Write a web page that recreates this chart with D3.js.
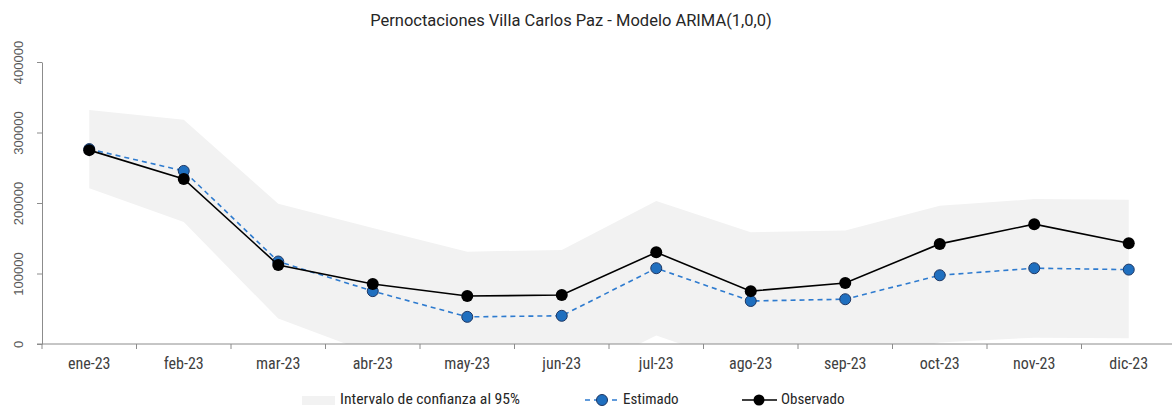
<!DOCTYPE html>
<html>
<head>
<meta charset="utf-8">
<script src="https://cdn.jsdelivr.net/npm/d3@7"></script>
<style>
  body { margin: 0; background: #fff; }
  svg { display: block; }
  .narrow { font-family: "Liberation Sans Narrow", "Roboto Condensed", Roboto, sans-serif; }
</style>
</head>
<body>
<div id="chart"></div>
<script>
// datos
var meses = ['ene-23','feb-23','mar-23','abr-23','may-23','jun-23','jul-23','ago-23','sep-23','oct-23','nov-23','dic-23'];
var observado = [275000, 234000, 112000, 85000, 68000, 69500, 130000, 75000, 86500, 142000, 170000, 143000];
var estimado  = [276500, 245500, 117000, 75000, 38500, 40000, 107500, 61000, 63500, 97500, 107500, 105500];
var icSup     = [332000, 318000, 199000, 164500, 131000, 133500, 203000, 158500, 161000, 196000, 205500, 204500];
var icInf     = [221000, 173000, 36000, -14000, -54000, -54000, 12000, -34000, -30000, 2000, 9000, 8000];
var yTicks    = [0, 100000, 200000, 300000, 400000];

var cfg = { w: 1172, h: 408, left: 42, right: 1176, top: 62, bottom: 344 };

var svg = d3.select("#chart").append("svg")
    .attr("width", cfg.w)
    .attr("height", cfg.h);

var x = d3.scaleBand().domain(meses).range([cfg.left, cfg.right]).padding(0);
var y = d3.scaleLinear().domain([0, 400000]).range([cfg.bottom, cfg.top]);
var cx = function(d, i) { return x(meses[i]) + x.bandwidth() / 2; };

svg.append("clipPath").attr("id", "clip")
  .append("rect")
    .attr("x", cfg.left).attr("y", 0)
    .attr("width", cfg.w - cfg.left).attr("height", cfg.bottom);

// banda de confianza
var area = d3.area()
    .x(cx)
    .y0(function(d, i) { return y(icInf[i]); })
    .y1(function(d, i) { return y(icSup[i]); });

svg.append("path")
    .datum(meses)
    .attr("clip-path", "url(#clip)")
    .attr("fill", "#f2f2f2")
    .attr("d", area);

// ejes
var yAxis = svg.append("g")
    .attr("transform", "translate(" + cfg.left + ",0)")
    .call(d3.axisLeft(y).tickValues(yTicks).tickSize(5).tickSizeOuter(0).tickFormat(d3.format("d")));
yAxis.select(".domain").attr("stroke", "#8c8c8c");
yAxis.selectAll(".tick line").attr("stroke", "#8c8c8c");
yAxis.selectAll(".tick text")
    .attr("x", null).attr("dy", null)
    .attr("transform", "translate(-24,0) rotate(-90)")
    .attr("text-anchor", "middle")
    .attr("dominant-baseline", "central")
    .style("font-family", "'Liberation Sans', Arial, sans-serif")
    .style("font-size", "13px")
    .attr("fill", "#595959");

svg.append("line")
    .attr("x1", 37).attr("x2", cfg.w)
    .attr("y1", cfg.bottom).attr("y2", cfg.bottom)
    .attr("stroke", "#8c8c8c");

svg.selectAll(".xtick")
    .data(meses)
    .enter().append("line")
    .attr("class", "xtick")
    .attr("x1", function(d) { return x(d); })
    .attr("x2", function(d) { return x(d); })
    .attr("y1", cfg.bottom).attr("y2", cfg.bottom + 5)
    .attr("stroke", "#8c8c8c");

svg.selectAll(".xlab")
    .data(meses)
    .enter().append("text")
    .attr("class", "xlab narrow")
    .attr("x", cx)
    .attr("y", 369)
    .attr("text-anchor", "middle")
    .style("font-size", "16px")
    .attr("fill", "#404040")
    .text(function(d) { return d; });

// lineas
var line = function(vals) {
    return d3.line().x(cx).y(function(d, i) { return y(vals[i]); })(meses);
};

svg.append("path")
    .attr("d", line(estimado))
    .attr("fill", "none")
    .attr("stroke", "#2e7bcf")
    .attr("stroke-width", 1.6)
    .attr("stroke-dasharray", "5,4");

svg.selectAll(".pEst")
    .data(estimado)
    .enter().append("circle")
    .attr("class", "pEst")
    .attr("cx", cx)
    .attr("cy", function(d) { return y(d); })
    .attr("r", 5.5)
    .attr("fill", "#1f6fbf")
    .attr("stroke", "#1f3864")
    .attr("stroke-width", 1);

svg.append("path")
    .attr("d", line(observado))
    .attr("fill", "none")
    .attr("stroke", "#000")
    .attr("stroke-width", 1.6);

svg.selectAll(".pObs")
    .data(observado)
    .enter().append("circle")
    .attr("class", "pObs")
    .attr("cx", cx)
    .attr("cy", function(d) { return y(d); })
    .attr("r", 6)
    .attr("fill", "#000");

// titulo
svg.append("text")
    .attr("x", 571)
    .attr("y", 26)
    .attr("text-anchor", "middle")
    .style("font-family", "Roboto, 'Open Sans', sans-serif")
    .style("font-size", "16.5px")
    .attr("fill", "#262626")
    .text("Pernoctaciones Villa Carlos Paz - Modelo ARIMA(1,0,0)");

// leyenda
var legend = svg.append("g").attr("class", "narrow").style("font-size", "15px").attr("fill", "#262626");

legend.append("rect")
    .attr("x", 302).attr("y", 396)
    .attr("width", 33).attr("height", 9)
    .attr("fill", "#f2f2f2");
legend.append("text").attr("x", 340).attr("y", 404)
    .attr("textLength", 180).attr("lengthAdjust", "spacingAndGlyphs")
    .text("Intervalo de confianza al 95%");

legend.append("line")
    .attr("x1", 585).attr("x2", 619).attr("y1", 400).attr("y2", 400)
    .attr("stroke", "#2e7bcf").attr("stroke-width", 1.6).attr("stroke-dasharray", "5,4");
legend.append("circle")
    .attr("cx", 602).attr("cy", 400).attr("r", 5.5)
    .attr("fill", "#1f6fbf").attr("stroke", "#1f3864");
legend.append("text").attr("x", 623).attr("y", 404).text("Estimado");

legend.append("line")
    .attr("x1", 742).attr("x2", 777).attr("y1", 400).attr("y2", 400)
    .attr("stroke", "#000").attr("stroke-width", 1.6);
legend.append("circle")
    .attr("cx", 759).attr("cy", 400).attr("r", 5.5)
    .attr("fill", "#000");
legend.append("text").attr("x", 781).attr("y", 404).text("Observado");
</script>
</body>
</html>
